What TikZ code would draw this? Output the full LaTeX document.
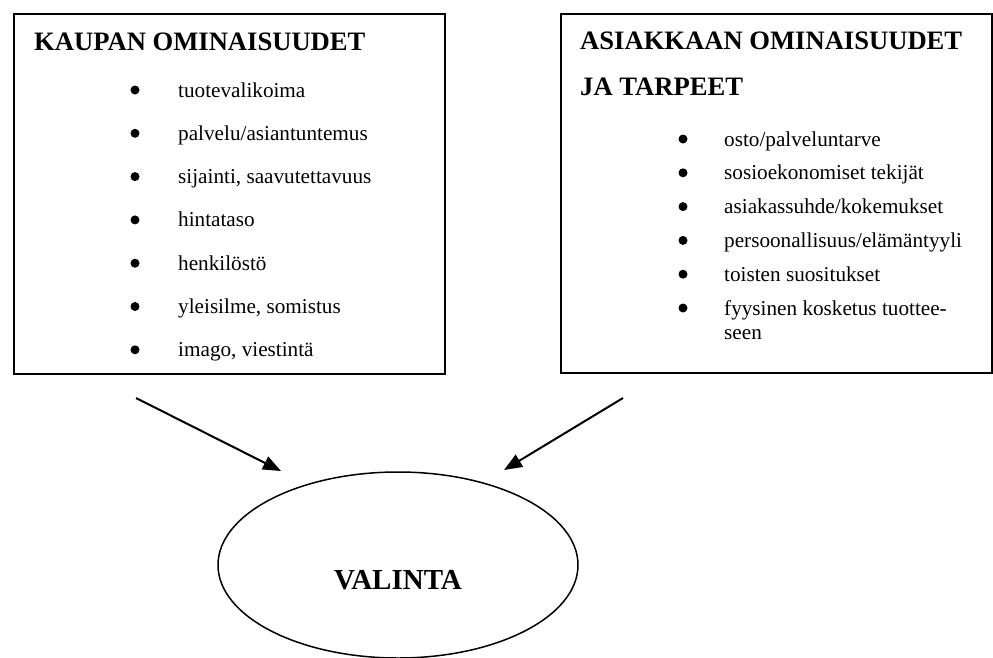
\documentclass[tikz,border=0pt]{standalone}
\usepackage{fontspec}
\setmainfont{Liberation Serif}
\usetikzlibrary{shapes.geometric,arrows.meta}
\tikzset{
  frame/.style={draw, line width=2pt, minimum width=431pt, minimum height=360pt, inner sep=0pt, anchor=north west},
  heading/.style={anchor=base west, inner sep=0pt, font=\fontsize{26.6}{30}\selectfont\bfseries},
  item/.style={anchor=base west, inner sep=0pt, font=\fontsize{21.2}{24}\selectfont},
  dot/.style={circle, fill=black, minimum size=9pt, inner sep=0pt},
  conn/.style={line width=2pt, -{Triangle[length=18pt,width=14pt]}},
  oval/.style={ellipse, draw, line width=1.5pt, minimum width=360pt, minimum height=186pt, inner sep=0pt}
}
\begin{document}
\begin{tikzpicture}[x=1pt,y=-1pt]
\useasboundingbox (0,0) rectangle (993,657);
\clip (0,0) rectangle (993,657);
\fill[white] (0,0) rectangle (993,657);
% boxes
\node[frame] (kbox) at (13,13) {};
\node[frame, minimum height=359pt] (abox) at (560,13) {};
% left box
\node[heading] (kh) at (34,50) {KAUPAN OMINAISUUDET};
\foreach \t [count=\i from 0] in {tuotevalikoima, palvelu/asiantuntemus, {sijainti, saavutettavuus}, hintataso, henkilöstö, {yleisilme, somistus}, {imago, viestintä}} {
  \node[dot] (kd\i) at (135,{90+43.3*\i}) {};
  \node[item] (ki\i) at (178,{97+43.3*\i}) {\t};
}
% right box
\node[heading] (ah1) at (580,49) {ASIAKKAAN OMINAISUUDET};
\node[heading] (ah2) at (580,95) {JA TARPEET};
\foreach \t [count=\i from 0] in {osto/palveluntarve, sosioekonomiset tekijät, asiakassuhde/kokemukset, persoonallisuus/elämäntyyli, toisten suositukset, {\begin{tabular}[t]{@{}l@{}}fyysinen kosketus tuottee-\\seen\end{tabular}}} {
  \node[dot] (ad\i) at (683,{139+33.8*\i}) {};
  \node[item] (ai\i) at (724,{146+33.8*\i}) {\t};
}
% ellipse
\node[oval] (val) at (398,565) {};
\node[anchor=base, inner sep=0pt, font=\fontsize{29}{32}\selectfont\bfseries] (valt) at (398,589) {VALINTA};
% arrows
\coordinate (ls) at (136,398);
\coordinate (le) at (281,471);
\coordinate (rs) at (623,398);
\coordinate (re) at (504,470);
\draw[conn] (ls) -- (le);
\draw[conn] (rs) -- (re);
\end{tikzpicture}
\end{document}
